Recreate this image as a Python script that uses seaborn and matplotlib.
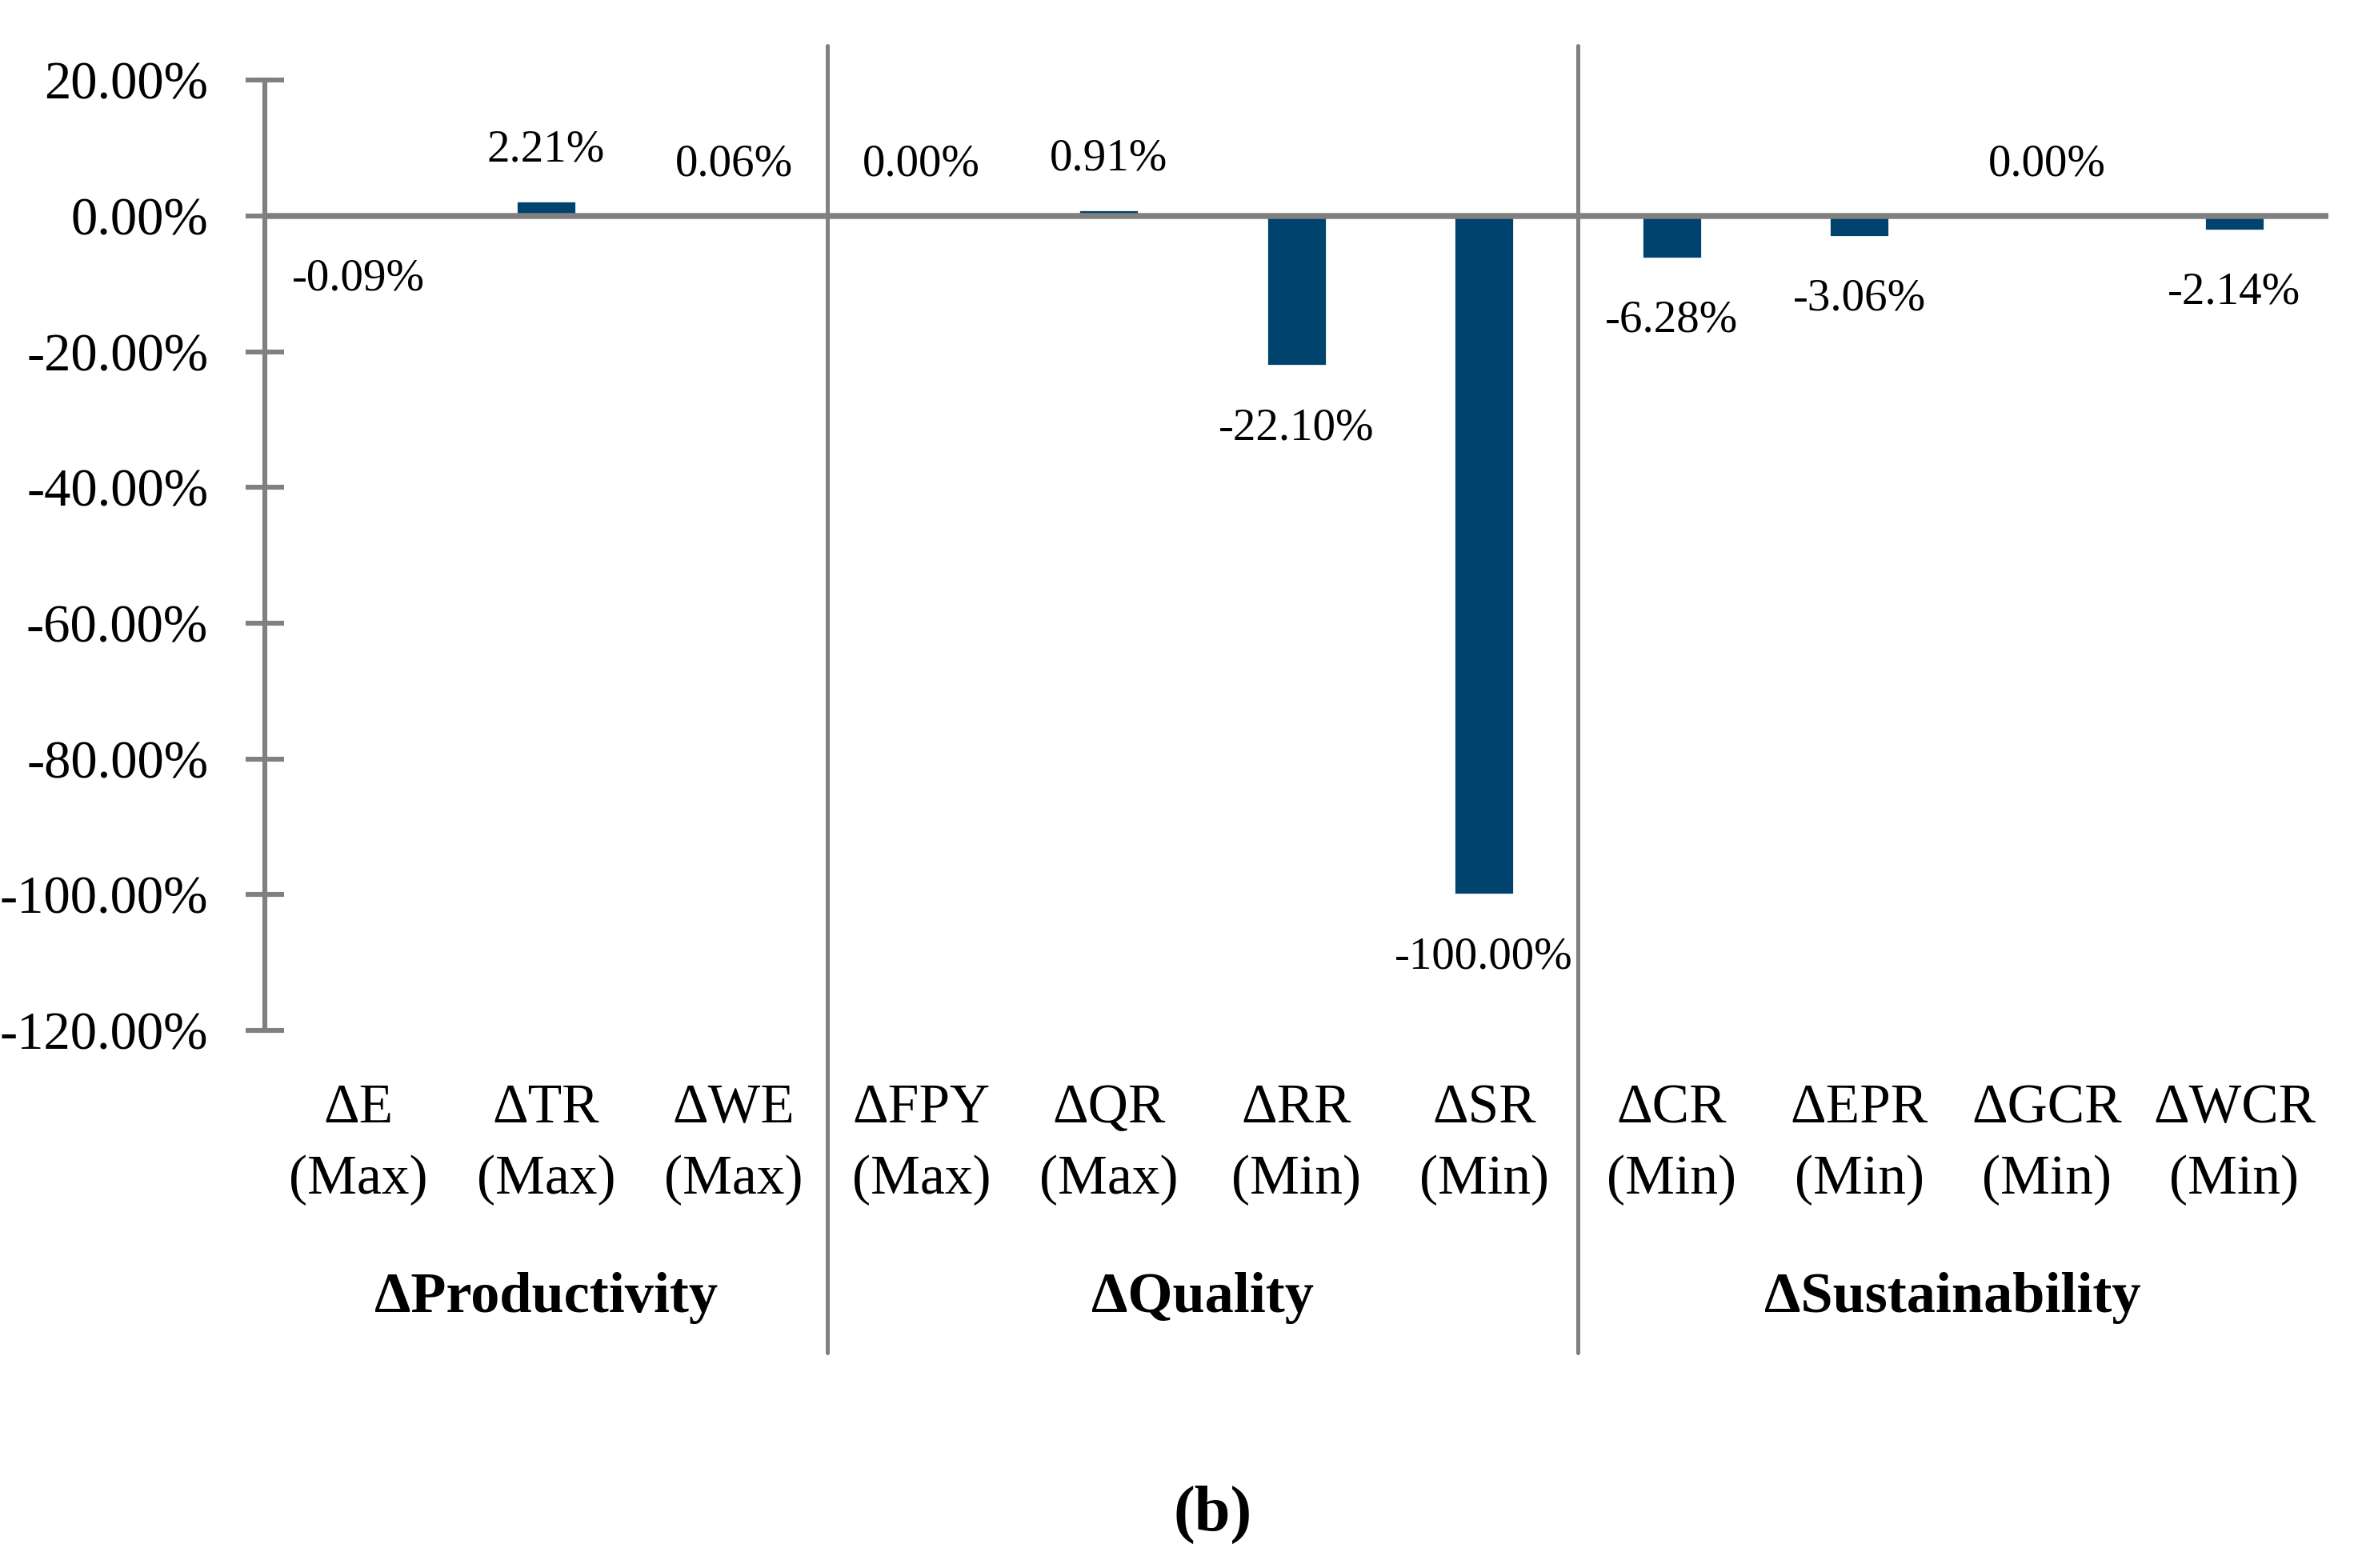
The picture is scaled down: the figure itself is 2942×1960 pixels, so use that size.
import numpy as np
import pandas as pd
import matplotlib
matplotlib.use("Agg")
import matplotlib.pyplot as plt
import matplotlib.transforms as mtransforms
from matplotlib.ticker import FuncFormatter
import seaborn as sns

# values (fractions)
metrics = ["\u0394E\n(Max)", "\u0394TR\n(Max)", "\u0394WE\n(Max)",
           "\u0394FPY\n(Max)", "\u0394QR\n(Max)", "\u0394RR\n(Min)", "\u0394SR\n(Min)",
           "\u0394CR\n(Min)", "\u0394EPR\n(Min)", "\u0394GCR\n(Min)", "\u0394WCR\n(Min)"]
changes = [-0.0009, 0.0221, 0.0006,
           0.0000, 0.0091, -0.2210, -1.0000,
           -0.0628, -0.0306, 0.0000, -0.0214]
groups = ["\u0394Productivity", "\u0394Quality", "\u0394Sustainability"]
group_sizes = [3, 4, 4]
y_ticks = [0.2, 0.0, -0.2, -0.4, -0.6, -0.8, -1.0, -1.2]

df = pd.DataFrame({"metric": metrics, "change": changes})

sns.set_style("white")
plt.rcParams["font.family"] = ["Liberation Serif", "DejaVu Serif"]
plt.rcParams["axes.unicode_minus"] = False
plt.rcParams["text.color"] = "black"
plt.rcParams["xtick.labelcolor"] = "black"
plt.rcParams["ytick.labelcolor"] = "black"

bar_color = "#00436F"
line_color = "#808080"

fig = plt.figure(figsize=(14.71, 9.8), dpi=200)
ax = fig.add_axes([0.1125, 0.3429, 0.8765, 0.606])

sns.barplot(data=df, x="metric", y="change", color=bar_color, width=0.32,
            saturation=1, ax=ax)

ax.set_xlim(-0.5, len(metrics) - 0.5)
ax.set_ylim(-1.2, 0.2)
ax.set_yticks(y_ticks)
ax.yaxis.set_major_formatter(FuncFormatter(lambda v, p: f"{v*100:.2f}%".replace("-0.00", "0.00")))
ax.set_xlabel("")
ax.set_ylabel("")

for side in ["top", "right", "bottom"]:
    ax.spines[side].set_visible(False)
ax.spines["left"].set_color(line_color)
ax.spines["left"].set_linewidth(2.2)
ax.axhline(0, color=line_color, lw=2.7, zorder=3)

ax.tick_params(axis="y", left=True, direction="inout", length=17, width=2.2,
               color=line_color, pad=17, labelsize=24, labelcolor="black")
ax.tick_params(axis="x", bottom=False, length=0, pad=24, labelsize=25, labelcolor="black")
for lbl in ax.get_xticklabels():
    lbl.set_linespacing(1.53)

# data labels
for i, v in enumerate(changes):
    off = 23 if v >= 0 else -28
    ax.annotate(f"{v*100:.2f}%", (i, v), xytext=(0, off), textcoords="offset points",
                ha="center", va="center", fontsize=20.5, color="black")

# group separators and group names
trans = mtransforms.blended_transform_factory(ax.transData, ax.transAxes)
start = 0
for name, size in zip(groups, group_sizes):
    center = start + (size - 1) / 2
    ax.text(center, -0.282, name, transform=trans, ha="center", va="center",
            fontsize=26, fontweight="bold", color="black")
    start += size
    if start < len(metrics):
        ax.plot([start - 0.5, start - 0.5], [1.036, -0.339], transform=trans,
                color=line_color, lw=1.8, clip_on=False)

fig.text(0.515, 0.034, "(b)", ha="center", va="center", fontsize=29,
         fontweight="bold", color="black")

fig.savefig("out.png", dpi=200)
plt.close(fig)
